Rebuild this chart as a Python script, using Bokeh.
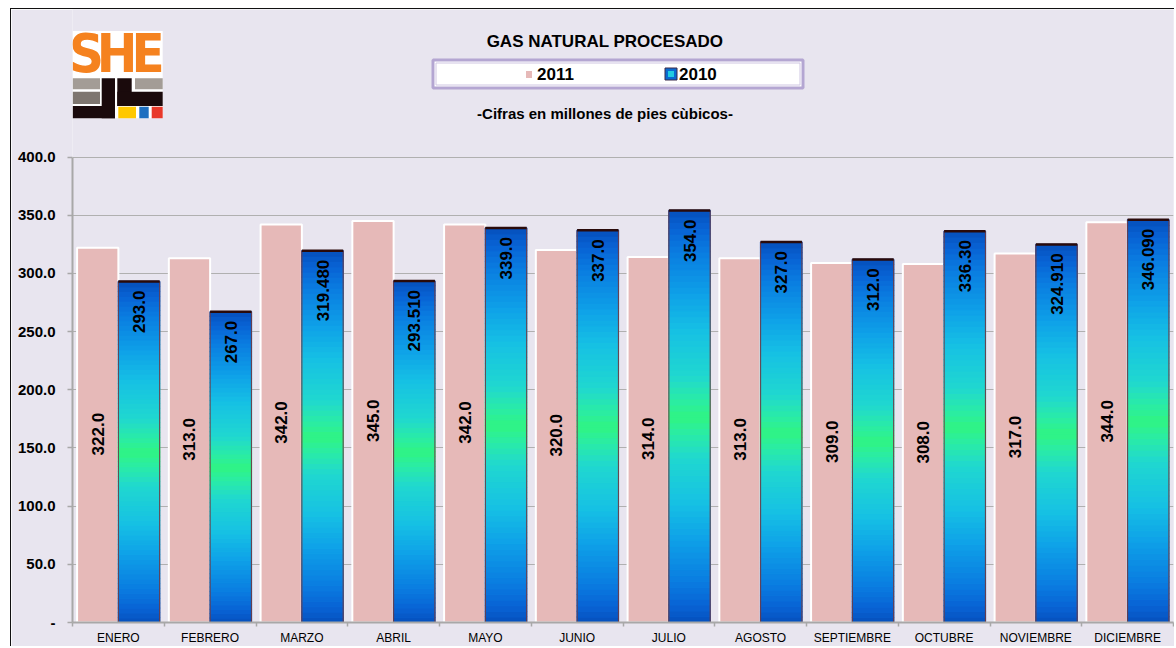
import math
from bokeh.plotting import figure
from bokeh.models import (BoxAnnotation, Label, FixedTicker,
                          NumeralTickFormatter, ColumnDataSource)
from bokeh.core.properties import value
from bokeh.embed import file_html
from bokeh.resources import INLINE

# ---------------- data ----------------
months = ["ENERO", "FEBRERO", "MARZO", "ABRIL", "MAYO", "JUNIO", "JULIO",
          "AGOSTO", "SEPTIEMBRE", "OCTUBRE", "NOVIEMBRE", "DICIEMBRE"]
v2011 = [322.0, 313.0, 342.0, 345.0, 342.0, 320.0, 314.0, 313.0, 309.0, 308.0, 317.0, 344.0]
v2010 = [293.0, 267.0, 319.48, 293.51, 339.0, 337.0, 354.0, 327.0, 312.0, 336.30, 324.91, 346.09]
lab2011 = ["322.0", "313.0", "342.0", "345.0", "342.0", "320.0", "314.0",
           "313.0", "309.0", "308.0", "317.0", "344.0"]
lab2010 = ["293.0", "267.0", "319.480", "293.510", "339.0", "337.0", "354.0",
           "327.0", "312.0", "336.30", "324.910", "346.090"]
y_ticks = [0, 50, 100, 150, 200, 250, 300, 350, 400]
series = ["2011", "2010"]
title_text = "GAS NATURAL PROCESADO"
subtitle_text = "-Cifras en millones de pies cùbicos-"

# ---------------- style / layout ----------------
BG = "#E8E5EF"
FONT = "Liberation Sans"
PINK = "#E6B9B8"
GRAY = "#A8A8A8"
BAR_W = 0.45
W, H = 1164, 638
ML, MR, MT, MB = 61, 2, 0, 25          # frame borders inside the canvas
OX, OY = 11.5, 9.5                     # canvas origin on the page
TOP_PX = 157                           # page row of the 400 gridline
FW = W - ML - MR
FH = H - MT - MB
FRAME_BOTTOM = OY + H - MB
PX_X = FW / 12.0
PX_Y = (FRAME_BOTTOM - TOP_PX) / y_ticks[-1]
Y_TOP = FH / PX_Y                      # frame extends above 400 to hold the header


def X(px):  # page pixel -> data x (decorations only)
    return (px - OX - ML) / PX_X


def Y(py):  # page pixel -> data y (decorations only)
    return (FRAME_BOTTOM - py) / PX_Y


p = figure(width=W, height=H, x_range=(0, 12), y_range=(0, Y_TOP),
           output_backend="svg", toolbar_location=None,
           min_border_left=ML, min_border_right=MR, min_border_top=MT, min_border_bottom=MB)
p.styles = {"margin-left": "10px", "margin-top": "8px",
            "border-left": "1.5px solid #111111", "border-top": "1.5px solid #111111"}
p.background_fill_color = BG
p.border_fill_color = BG
p.outline_line_color = None
p.xgrid.visible = False
p.ygrid.grid_line_color = "#B0B0B0"
p.ygrid.grid_line_width = 1

n = len(months)
centers = [i + 0.5 for i in range(n)]

xa = p.xaxis[0]
xa.ticker = FixedTicker(ticks=centers, minor_ticks=list(range(n + 1)))
xa.major_label_overrides = {c: m for c, m in zip(centers, months)}
xa.major_tick_out = 0
xa.major_tick_in = 0
xa.minor_tick_out = 4
xa.minor_tick_in = 0
xa.minor_tick_line_color = GRAY
xa.minor_tick_line_width = 1.5
xa.axis_line_color = GRAY
xa.axis_line_width = 2
xa.major_label_text_font = FONT
xa.major_label_text_font_size = "12px"
xa.major_label_text_color = "black"
xa.major_label_standoff = 4

ya = p.yaxis[0]
ya.ticker = FixedTicker(ticks=y_ticks, minor_ticks=[])
ya.bounds = (y_ticks[0], y_ticks[-1])
ya.formatter = NumeralTickFormatter(format="0.0")
ya.major_label_overrides = {0: "-"}
ya.major_tick_out = 5
ya.major_tick_in = 0
ya.major_tick_line_color = GRAY
ya.major_tick_line_width = 1.5
ya.minor_tick_line_color = None
ya.axis_line_color = GRAY
ya.axis_line_width = 2
ya.major_label_text_font = FONT
ya.major_label_text_font_style = "bold"
ya.major_label_text_font_size = "15px"
ya.major_label_text_color = "black"
ya.major_label_standoff = 12

# ---------------- 2011 bars ----------------
x2011 = [c - BAR_W / 2 for c in centers]
x2010 = [c + BAR_W / 2 for c in centers]
src11 = ColumnDataSource(dict(x=x2011, top=v2011, mid=[v / 2 for v in v2011], lab=lab2011))
p.vbar(x="x", top="top", bottom=0, width=BAR_W, source=src11,
       fill_color=PINK, line_color="white", line_width=2)

# ---------------- 2010 bars (vertical gradient by slices) ----------------
stops = [(0.0, (48, 245, 130)), (0.08, (42, 236, 165)), (0.2, (32, 216, 208)),
         (0.42, (22, 192, 228)), (0.6, (14, 160, 232)), (0.8, (10, 124, 224)),
         (0.92, (8, 98, 212)), (1.0, (6, 80, 188))]


def grad(t):
    d = min(1.0, abs(t - 0.5) * 2)
    for (a, ca), (b, cb) in zip(stops[:-1], stops[1:]):
        if a <= d <= b:
            f = (d - a) / (b - a) if b > a else 0
            c = [round(ca[k] + (cb[k] - ca[k]) * f) for k in range(3)]
            return "#%02x%02x%02x" % tuple(c)
    return "#%02x%02x%02x" % stops[-1][1]


N = 70
ql, qr, qb, qt, qc = [], [], [], [], []
for xc, v in zip(x2010, v2010):
    for k in range(N):
        ql.append(xc - BAR_W / 2)
        qr.append(xc + BAR_W / 2)
        qb.append(v * k / N)
        qt.append(v * (k + 1) / N)
        qc.append(grad(1 - (k + 0.5) / N))
p.quad(left=ql, right=qr, bottom=qb, top=qt, fill_color=qc, line_color=qc, line_width=1.5)

src10 = ColumnDataSource(dict(x=x2010, top=v2010, lab=lab2010,
                              x0=[x - BAR_W / 2 for x in x2010],
                              x1=[x + BAR_W / 2 for x in x2010]))
p.vbar(x="x", top="top", bottom=0, width=BAR_W, source=src10,
       fill_color=None, line_color="#6E3A44", line_width=1)
p.segment(x0="x0", x1="x1", y0="top", y1="top", source=src10,
          line_color="#2A0A0A", line_width=2.5)

# ---------------- value labels ----------------
p.text(x="x", y="mid", text="lab", source=src11, angle=math.pi / 2,
       text_align="center", text_baseline="middle", y_offset=-1,
       text_font=value(FONT), text_font_style="bold", text_font_size="17px",
       text_color="black")
p.text(x="x", y="top", text="lab", source=src10, angle=math.pi / 2,
       text_align="right", text_baseline="middle", y_offset=9,
       text_font=value(FONT), text_font_style="bold", text_font_size="17px",
       text_color="black")


# ---------------- header decorations (inside the frame, above 400) ----------------
def box(l, r, t, b, fill, line=None, lw=1):
    p.add_layout(BoxAnnotation(left=X(l), right=X(r), top=Y(t), bottom=Y(b),
                               fill_color=fill, fill_alpha=1 if fill is not None else 0,
                               line_color=line, line_width=lw,
                               line_alpha=1 if line is not None else 0))


def lbl(px, py, text, size, bold=True, align="center", baseline="middle",
        color="black", font=FONT):
    p.add_layout(Label(x=X(px), y=Y(py), text=text,
                       text_font=font, text_font_size=size,
                       text_font_style="bold" if bold else "normal",
                       text_align=align, text_baseline=baseline, text_color=color))


# logo
box(72.7, 162.7, 31, 118.3, "white")
for px, ch in zip([86.5, 117, 148], "SHE"):
    lbl(px, 53, ch, "54px", baseline="middle", color="#F5821F",
        font="DejaVu Sans Condensed, Liberation Sans")
box(72.7, 100, 78.3, 89.3, "#A39C96")
box(135, 162.7, 78.3, 89.3, "#A39C96")
box(72.7, 100, 91.7, 104, "#7E7670")
box(101.7, 115, 78.3, 118.3, "#1A0A0C")
box(72.7, 115, 106, 118.3, "#1A0A0C")
box(117.3, 131.7, 78.3, 106, "#1A0A0C")
box(117.3, 162.7, 91.7, 106, "#1A0A0C")
box(118.3, 136, 106.7, 118.3, "#FFC800")
box(139.3, 148.7, 106.7, 118.3, "#1E6FC0")
box(151.7, 162.7, 106.7, 118.3, "#E8382A")

# title / legend / subtitle
lbl(605, 41, title_text, "17px")
box(433, 803, 60, 88, "white", line="#B4A6D2", lw=3)
box(436, 800, 63, 85, None, line="#CFC6E2", lw=1)
box(526, 532, 71, 78, PINK)
lbl(537, 74, series[0], "17px", align="left")
box(665, 677, 68, 80, "#0A6AD0", line="#3A2A4A", lw=1)
box(668, 674, 71, 77, "#22CCE0")
lbl(679, 74, series[1], "17px", align="left")
lbl(605, 113, subtitle_text, "15px")

open("out.html", "w").write(file_html(p, INLINE))
